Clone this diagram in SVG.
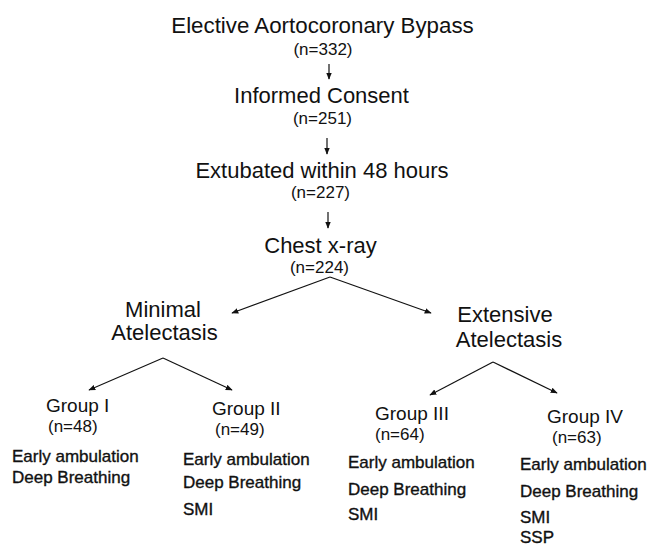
<svg xmlns="http://www.w3.org/2000/svg" width="654" height="549" viewBox="0 0 654 549">
<defs>
<marker id="ah" viewBox="0 0 10 10" refX="9" refY="5" markerWidth="7" markerHeight="7" markerUnits="userSpaceOnUse" orient="auto">
<path d="M0,1 L10,5 L0,9 z" fill="#111"/>
</marker>
</defs>
<style>
text{font-family:"Liberation Sans",Arial,Helvetica,sans-serif;fill:#111}
.h{font-size:22px;text-anchor:middle}
.n{font-size:17px;text-anchor:middle}
.g{font-size:19px}
.gn{font-size:17px}
.i{font-size:17px;stroke:#111;stroke-width:0.35}
.c line{stroke:#111;stroke-width:1.2;fill:none;marker-end:url(#ah)}
</style>
<rect width="654" height="549" fill="#fff"/>
<g id="bypass"><text class="h" x="322.5" y="33" style="font-size:22.3px">Elective Aortocoronary Bypass</text><text class="n" x="323" y="55">(n=332)</text></g>
<g id="consent"><text class="h" x="321.5" y="103">Informed Consent</text><text class="n" x="322.5" y="124">(n=251)</text></g>
<g id="extubated"><text class="h" x="322" y="178">Extubated within 48 hours</text><text class="n" x="320.5" y="198">(n=227)</text></g>
<g id="xray"><text class="h" x="320.5" y="253">Chest x-ray</text><text class="n" x="319.5" y="273">(n=224)</text></g>
<g id="minimal"><text class="h" x="163" y="317">Minimal</text><text class="h" x="164.5" y="340">Atelectasis</text></g>
<g id="extensive"><text class="h" x="505" y="322">Extensive</text><text class="h" x="509" y="347">Atelectasis</text></g>
<g id="group1"><text class="g" x="46" y="412">Group I</text><text class="gn" x="48" y="432">(n=48)</text>
<text class="i" x="12" y="462">Early ambulation</text><text class="i" x="12" y="483">Deep Breathing</text></g>
<g id="group2"><text class="g" x="212" y="415">Group II</text><text class="gn" x="215" y="435">(n=49)</text>
<text class="i" x="183" y="465">Early ambulation</text><text class="i" x="183" y="488">Deep Breathing</text><text class="i" x="183" y="515">SMI</text></g>
<g id="group3"><text class="g" x="375" y="420">Group III</text><text class="gn" x="375" y="440">(n=64)</text>
<text class="i" x="348" y="468">Early ambulation</text><text class="i" x="348" y="495">Deep Breathing</text><text class="i" x="348" y="520">SMI</text></g>
<g id="group4"><text class="g" x="547" y="423">Group IV</text><text class="gn" x="552" y="443">(n=63)</text>
<text class="i" x="520" y="470">Early ambulation</text><text class="i" x="520" y="497">Deep Breathing</text><text class="i" x="520" y="523">SMI</text><text class="i" x="520" y="543">SSP</text></g>
<g id="connectors" class="c">
<line x1="329" y1="64" x2="329" y2="79"/>
<line x1="327" y1="138" x2="327" y2="154"/>
<line x1="328" y1="212" x2="328" y2="228"/>
<line x1="330" y1="277" x2="232" y2="313"/>
<line x1="330" y1="277" x2="431" y2="313"/>
<line x1="163" y1="358" x2="89" y2="390"/>
<line x1="163" y1="358" x2="232" y2="390"/>
<line x1="493" y1="362" x2="430" y2="395"/>
<line x1="493" y1="362" x2="557" y2="393"/>
</g>
</svg>
